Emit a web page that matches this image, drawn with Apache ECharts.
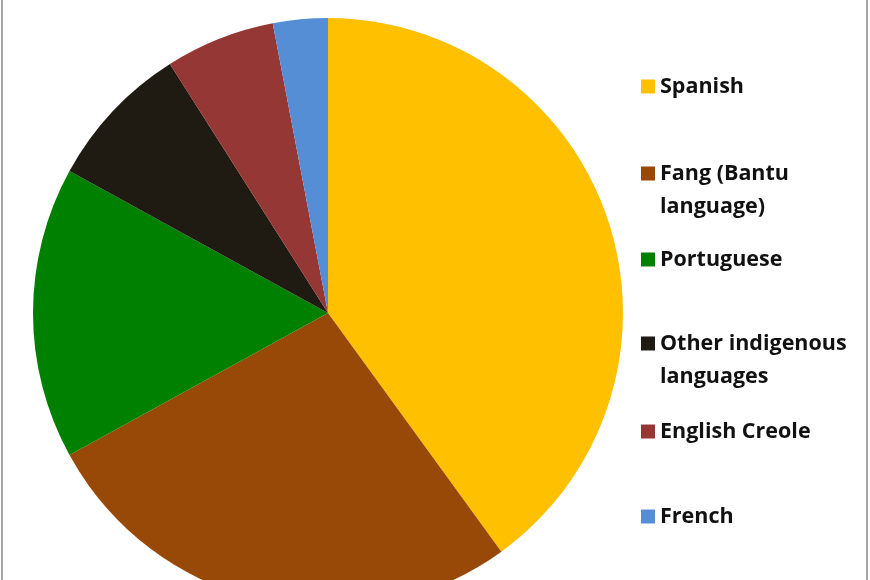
<!DOCTYPE html>
<html>
<head>
<meta charset="utf-8">
<script src="https://cdn.jsdelivr.net/npm/echarts@6/dist/echarts.min.js"></script>
<style>
html,body{margin:0;padding:0;background:#fff;}
#wrap{position:relative;width:870px;height:580px;overflow:hidden;}
#c{width:870px;height:580px;}
.vl{position:absolute;top:0;width:2px;height:580px;background:#a6a6a6;}
</style>
</head>
<body>
<div id="wrap">
<div id="c"></div>
<div class="vl" style="left:1px"></div>
<div class="vl" style="left:866px"></div>
</div>
<script>
const categories = ['Spanish', 'Fang (Bantu language)', 'Portuguese', 'Other indigenous languages', 'English Creole', 'French'];
const legendLabels = ['Spanish', 'Fang (Bantu\nlanguage)', 'Portuguese', 'Other indigenous\nlanguages', 'English Creole', 'French'];
const values = [40, 27, 16, 8, 6, 3];
const colors = ['#FFC000', '#984807', '#008000', '#1F1A12', '#953735', '#558ED5'];
const legendTops = [70, 124, 243, 294, 415, 500];

const chart = echarts.init(document.getElementById('c'), null, {renderer: 'canvas'});
const legends = categories.map((name, i) => {
  const twoLine = legendLabels[i].indexOf('\n') >= 0;
  return {
    left: 641,
    top: legendTops[i],
    orient: 'vertical',
    padding: 0,
    itemWidth: 14,
    itemHeight: 14,
    icon: 'rect',
    selectedMode: false,
    data: [name],
    formatter: () => (twoLine ? '\n' : '') + legendLabels[i],
    textStyle: {
      fontFamily: 'Open Sans',
      fontWeight: 'bold',
      fontSize: 21.5,
      color: '#111',
      lineHeight: 33
    }
  };
});

chart.setOption({
  animation: false,
  color: colors,
  legend: legends,
  series: [{
    type: 'pie',
    center: [328, 313],
    radius: 295,
    startAngle: 90,
    clockwise: true,
    label: {show: false},
    labelLine: {show: false},
    itemStyle: {borderWidth: 0},
    emphasis: {disabled: true},
    data: categories.map((n, i) => ({name: n, value: values[i]}))
  }]
});
</script>
</body>
</html>
